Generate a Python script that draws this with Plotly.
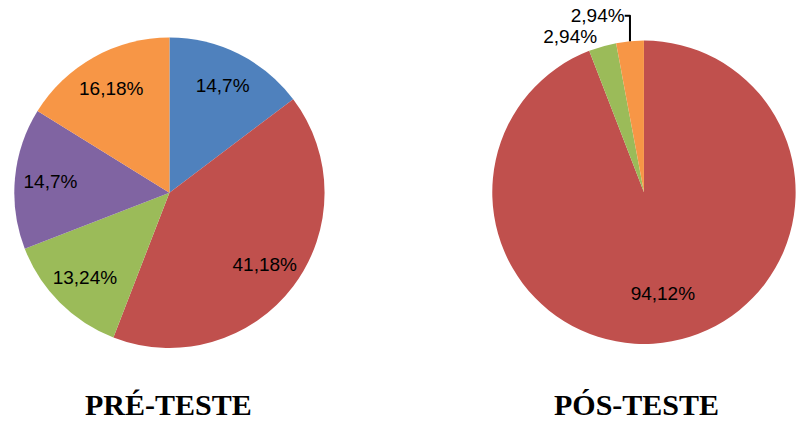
import plotly.graph_objects as go

# Data
pre_labels = ["A", "B", "C", "D", "E"]
pre_values = [14.70, 41.18, 13.24, 14.70, 16.18]
pre_text = ["14,7%", "41,18%", "13,24%", "14,7%", "16,18%"]

pos_labels = ["B", "C", "E"]
pos_values = [94.12, 2.94, 2.94]
pos_text = ["94,12%", "2,94%", "2,94%"]

titles = ["PRÉ-TESTE", "PÓS-TESTE"]

colors = {"A": "#4F81BD", "B": "#C0504D", "C": "#9BBB59", "D": "#8064A2", "E": "#F79646"}

W, H = 801, 421
font = dict(family="Liberation Sans", size=19, color="black")

pre_dom = dict(x=[(170.5 - 157) / W, (170.5 + 157) / W], y=[1 - 347 / H, 1 - 33 / H])
pos_dom = dict(x=[495 / W, 1.0], y=[1 - 343 / H, 1 - 36 / H])

fig = go.Figure()
# colored slices
for labels, values, dom in [(pre_labels, pre_values, pre_dom), (pos_labels, pos_values, pos_dom)]:
    fig.add_trace(go.Pie(
        labels=labels, values=values, textinfo="none",
        sort=False, direction="clockwise", rotation=0,
        marker=dict(colors=[colors[l] for l in labels], line=dict(width=0)),
        domain=dom, showlegend=False, hoverinfo="skip",
    ))
# label layers (transparent ring places labels further out)
fig.add_trace(go.Pie(
    labels=pre_labels, values=pre_values, text=pre_text, hole=0.54,
    textinfo="text", textposition="inside", insidetextorientation="horizontal",
    sort=False, direction="clockwise", rotation=0,
    marker=dict(colors=["rgba(0,0,0,0)"] * 5, line=dict(width=0)),
    textfont=font, domain=pre_dom, showlegend=False, hoverinfo="skip",
))
fig.add_trace(go.Pie(
    labels=pos_labels, values=pos_values, text=pos_text, hole=0.36,
    textinfo="text", textposition=["inside", "outside", "outside"],
    insidetextorientation="horizontal",
    sort=False, direction="clockwise", rotation=0,
    marker=dict(colors=["rgba(0,0,0,0)"] * 3, line=dict(width=0)),
    textfont=font, domain=pos_dom, showlegend=False, hoverinfo="skip",
))

for t, cx in zip(titles, [170, 640]):
    fig.add_annotation(text=f"<b>{t}</b>", x=cx / W, y=0, xref="paper", yref="paper",
                       xanchor="center", yanchor="bottom", showarrow=False, yshift=-2,
                       font=dict(family="Liberation Serif", size=30, color="black"))

fig.update_layout(width=W, height=H, margin=dict(l=0, r=0, t=0, b=0),
                  paper_bgcolor="white", plot_bgcolor="white")
fig.write_html("out.html")
